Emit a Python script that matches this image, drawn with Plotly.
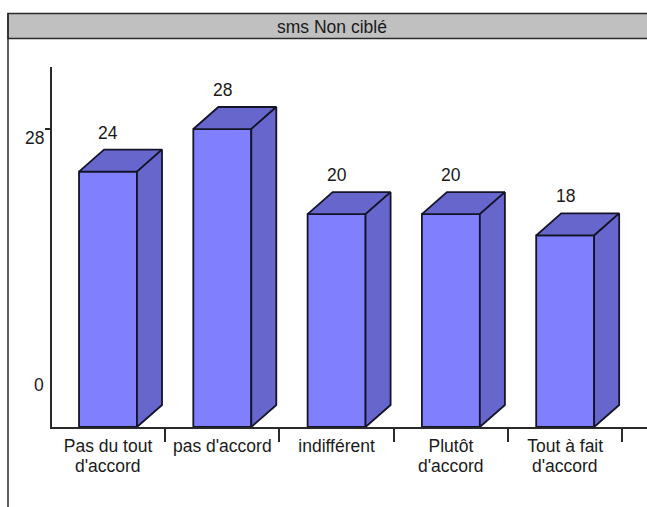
import plotly.graph_objects as go

# Survey responses for the "sms Non ciblé" group
title = "sms Non ciblé"
first_lines = ["Pas du tout", "pas d'accord", "indifférent", "Plutôt", "Tout à fait"]
second_lines = ["d'accord", "", "", "d'accord", "d'accord"]
values = [24, 28, 20, 20, 18]
positions = [0, 1, 2, 3, 4]
separators = [0.5, 1.5, 2.5, 3.5, 4.5]
axis_labels = [0, 28]
axis_ticks = [28]

W, H = 647, 507
LEFT, RIGHT, TOP, BOTTOM = 52, 0, 67, 80
FONT = dict(family="Liberation Sans, Arial, sans-serif", size=17.5, color="#1a1a1a")
INK = "#141428"

# Axis ranges and the extruded depth of each column, in data units
X_RANGE = [-0.49, 4.716]
Y_RANGE = [0, 33.83]
BAR_W = 0.507
DEPTH_X = 0.219
DEPTH_Y = 2.07


def px_x(p):
    return (p - LEFT) / (W - LEFT - RIGHT)


def px_y(p):
    return 1 - (p - TOP) / (H - TOP - BOTTOM)


fig = go.Figure()

# Column fronts
fig.add_trace(go.Bar(
    x=positions, y=values, width=BAR_W,
    marker=dict(color="#8080ff", line=dict(color=INK, width=1.8)),
    hoverinfo="skip", showlegend=False,
))

# Top and side faces give each column its box shape
for pos, val in zip(positions, values):
    l, r = pos - BAR_W / 2, pos + BAR_W / 2
    top_x = [l, l + DEPTH_X, r + DEPTH_X, r, l]
    top_y = [val, val + DEPTH_Y, val + DEPTH_Y, val, val]
    side_x = [r, r + DEPTH_X, r + DEPTH_X, r, r]
    side_y = [0, DEPTH_Y, val + DEPTH_Y, val, 0]
    for xs, ys in ((top_x, top_y), (side_x, side_y)):
        fig.add_trace(go.Scatter(
            x=xs, y=ys, mode="lines", fill="toself", fillcolor="#6666cc",
            line=dict(color=INK, width=1.8), hoverinfo="skip", showlegend=False,
        ))

annotations = []
# Value labels above each column
for pos, val in zip(positions, values):
    annotations.append(dict(
        x=pos, y=val, xref="x", yref="y", text=str(val), showarrow=False,
        yshift=39, xanchor="center", yanchor="middle", font=FONT,
    ))
# Second line of the category labels, spaced wider than a <br> would give
for pos, line in zip(positions, second_lines):
    if line:
        annotations.append(dict(
            x=pos, y=px_y(466), xref="x", yref="paper", text=line, showarrow=False,
            xanchor="center", yanchor="middle", font=FONT,
        ))
# Value axis labels sit away from their ticks
for val, shift in zip(axis_labels, (42, -9)):
    annotations.append(dict(
        x=px_x(46), y=val, xref="paper", yref="y", text=str(val), showarrow=False,
        yshift=shift, xanchor="right", yanchor="middle", font=FONT,
    ))
# Header text
annotations.append(dict(
    x=px_x(332), y=px_y(27), xref="paper", yref="paper", text=title, showarrow=False,
    xanchor="center", yanchor="middle", font=FONT,
))

# Panel frame and header band
shapes = [
    dict(type="rect", xref="paper", yref="paper", layer="below",
         x0=px_x(8), x1=px_x(660), y0=px_y(38.5), y1=px_y(13.5),
         fillcolor="#c0c0c0", line=dict(color="#2a2a2a", width=1.5)),
    dict(type="line", xref="paper", yref="paper", layer="below",
         x0=px_x(8), x1=px_x(8), y0=px_y(13), y1=px_y(520),
         line=dict(color="#2a2a2a", width=1.5)),
]

fig.update_layout(
    width=W, height=H,
    margin=dict(l=LEFT, r=RIGHT, t=TOP, b=BOTTOM, pad=0),
    paper_bgcolor="white", plot_bgcolor="white",
    showlegend=False, annotations=annotations, shapes=shapes,
    xaxis=dict(
        range=X_RANGE, tickmode="array", tickvals=positions, ticktext=first_lines,
        ticks="", showgrid=False, zeroline=False, showline=True,
        linecolor="#2a2a2a", linewidth=1.5, tickfont=FONT, tickangle=0,
        ticklabelstandoff=2,
        minor=dict(tickmode="array", tickvals=separators, ticks="outside",
                   ticklen=13, tickwidth=1.5, tickcolor="#2a2a2a", showgrid=False),
    ),
    yaxis=dict(
        range=Y_RANGE, tickmode="array", tickvals=axis_ticks, showticklabels=False,
        ticks="outside", ticklen=5, tickwidth=1.5, tickcolor="#2a2a2a",
        showgrid=False, zeroline=False, showline=True,
        linecolor="#2a2a2a", linewidth=1.5,
    ),
)

fig.write_html("out.html", config=dict(displayModeBar=False))
